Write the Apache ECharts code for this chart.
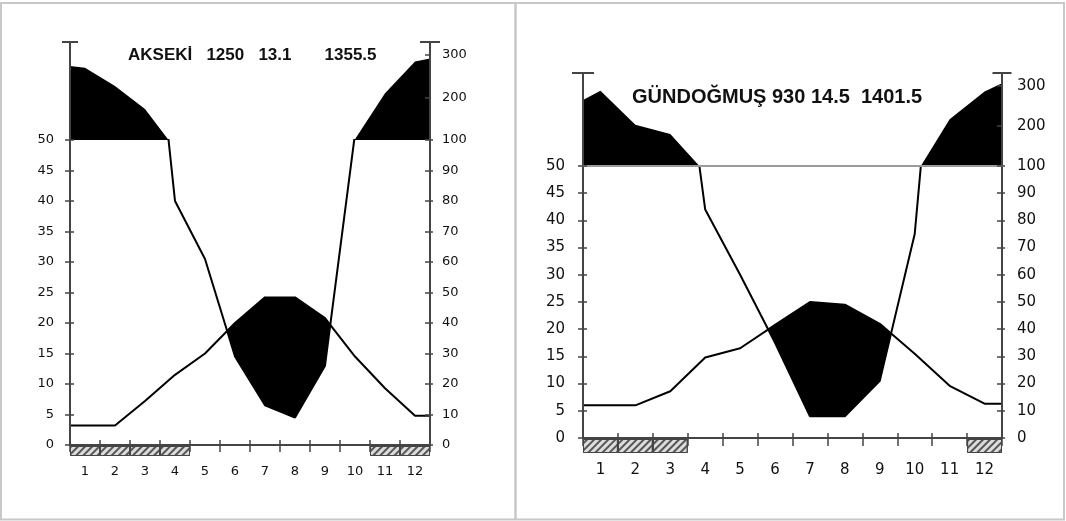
<!DOCTYPE html>
<html>
<head>
<meta charset="utf-8">
<script src="https://cdn.jsdelivr.net/npm/echarts@6/dist/echarts.min.js"></script>
<style>
html,body{margin:0;padding:0;background:#fff;}
#chart{width:1066px;height:521px;}
</style>
</head>
<body>
<div id="chart"></div>
<script>
// ---------------- data ----------------
const months = ['1','2','3','4','5','6','7','8','9','10','11','12'];

const akTitle = 'AKSEKİ   1250   13.1       1355.5';
const akTemp = [3.2, 3.2, 7.2, 11.5, 15.0, 20.0, 24.2, 24.2, 20.8, 14.5, 9.3, 4.8];
const akPrecip = [270, 227, 173, 80, 61, 29, 13, 9, 26, 102, 210, 285];
const akPrecipEdges = [274, 292];
const akFrost = [1, 1, 1, 1, 0, 0, 0, 0, 0, 0, 1, 1];

const gdTitle = 'GÜNDOĞMUŞ 930 14.5  1401.5';
const gdTemp = [6.0, 6.0, 8.6, 14.8, 16.5, 20.8, 25.0, 24.5, 21.0, 15.5, 9.6, 6.3];
const gdPrecip = [288, 203, 180, 84, 60, 35, 8, 8, 21, 75, 217, 286];
const gdPrecipEdges = [265, 307];
const gdFrost = [1, 1, 1, 0, 0, 0, 0, 0, 0, 0, 0, 1];

const tempStep = 5, tempMax = 50;
const precipStep = 10, precipMax = 100;
const precipUpperLabels = [200, 300];

// ---------------- build ----------------
const AX = '#444';
const TXT = '#111';
const FONT = 'DejaVu Sans';

const opt = {
  animation: false,
  backgroundColor: '#fff',
  grid: [], xAxis: [], yAxis: [], series: [], title: [],
  graphic: [
    {type:'rect', shape:{x:1, y:3, width:1063, height:516.5}, style:{fill:'none', stroke:'#c8c8c8', lineWidth:2}},
    {type:'line', shape:{x1:515.5, y1:3, x2:515.5, y2:519.5}, style:{stroke:'#c8c8c8', lineWidth:2.5}}
  ]
};

function seriesWithEdges(vals, edges) {
  const d = [[0.5, edges ? edges[0] : vals[0]]];
  vals.forEach((v, i) => d.push([i + 1, v]));
  d.push([12.5, edges ? edges[1] : vals[11]]);
  return d;
}

function addPanel(p) {
  const g = opt.grid.length, x = opt.xAxis.length, y = opt.yAxis.length;
  const upH = p.lowTop - p.upTop;
  const upMax = 100 + upH / p.upK;
  opt.grid.push({left:p.left, top:p.lowTop, width:p.width, height:p.lowH});
  opt.grid.push({left:p.left, top:p.upTop, width:p.width, height:upH});
  opt.grid.push({left:p.left, top:p.stripTop, width:p.width, height:p.stripH});

  // x axes
  opt.xAxis.push({type:'category', gridIndex:g, data:months, position:'bottom', boundaryGap:true, z:6,
    axisLine:{onZero:false, lineStyle:{color:AX, width:2}},
    axisTick:{show:true, length:p.xTickOut, lineStyle:{color:AX, width:1.5}},
    axisLabel:{margin:p.xLabMargin, fontFamily:FONT, fontSize:p.fs, color:TXT},
    splitLine:{show:false}});
  opt.xAxis.push({type:'category', gridIndex:g, data:months, position:'bottom', boundaryGap:true, z:6,
    axisLine:{show:false}, axisTick:{show:true, inside:true, length:5, lineStyle:{color:AX, width:1.5}},
    axisLabel:{show:false}, splitLine:{show:false}});
  opt.xAxis.push({type:'value', gridIndex:g, min:0.5, max:12.5, show:false, splitLine:{show:false}});
  opt.xAxis.push({type:'value', gridIndex:g+1, min:0.5, max:12.5, position:'bottom', z:6,
    axisLine:{show:p.hundredLine, onZero:false, lineStyle:{color:'#9a9a9a', width:2}},
    axisTick:{show:false}, axisLabel:{show:false}, splitLine:{show:false}});
  opt.xAxis.push({type:'category', gridIndex:g+2, data:months, show:false, boundaryGap:true});

  // y axes (lower)
  opt.yAxis.push({type:'value', gridIndex:g, min:0, max:tempMax, interval:tempStep, position:'left', z:6,
    axisLine:{show:true, onZero:false, lineStyle:{color:AX, width:2}},
    axisTick:{show:true, length:5, lineStyle:{color:AX, width:1.5}},
    axisLabel:{margin:p.yLabMarginL, fontFamily:FONT, fontSize:p.fs, color:TXT},
    splitLine:{show:false}});
  opt.yAxis.push({type:'value', gridIndex:g, min:0, max:tempMax, interval:tempStep, position:'left', z:6,
    axisLine:{show:false}, axisTick:{show:true, inside:true, length:4, lineStyle:{color:AX, width:1.5}},
    axisLabel:{show:false}, splitLine:{show:false}});
  opt.yAxis.push({type:'value', gridIndex:g, min:0, max:precipMax, interval:precipStep, position:'right', z:6,
    axisLine:{show:true, onZero:false, lineStyle:{color:AX, width:2}},
    axisTick:{show:true, length:3, lineStyle:{color:AX, width:1.5}},
    axisLabel:{margin:p.yLabMarginR, fontFamily:FONT, fontSize:p.fs, color:TXT},
    splitLine:{show:false}});
  opt.yAxis.push({type:'value', gridIndex:g, min:0, max:precipMax, interval:precipStep, position:'right', z:6,
    axisLine:{show:false}, axisTick:{show:true, inside:true, length:5, lineStyle:{color:AX, width:1.5}},
    axisLabel:{show:false}, splitLine:{show:false}});
  // y axes (upper)
  opt.yAxis.push({type:'value', gridIndex:g+1, min:100, max:upMax, position:'left', z:6,
    axisLine:{show:true, onZero:false, symbol:['none','rect'], symbolSize:[p.capL, 2], lineStyle:{color:AX, width:2}},
    axisTick:{show:false}, axisLabel:{show:false}, splitLine:{show:false}});
  opt.yAxis.push({type:'value', gridIndex:g+1, min:100, max:upMax, interval:100, position:'right', z:6,
    axisLine:{show:true, onZero:false, symbol:['none','rect'], symbolSize:[p.capR, 2], lineStyle:{color:AX, width:2}},
    axisTick:{show:true, inside:true, length:5, lineStyle:{color:AX, width:1.5}},
    axisLabel:{margin:p.yLabMarginR, fontFamily:FONT, fontSize:p.fs, color:TXT, showMinLabel:false,
      formatter: v => precipUpperLabels.indexOf(Math.round(v)) >= 0 && Math.abs(v - Math.round(v)) < 1e-6 ? String(Math.round(v)) : ''},
    splitLine:{show:false}});
  // strip
  opt.yAxis.push({type:'value', gridIndex:g+2, min:0, max:1, show:false, splitLine:{show:false}});

  const tData = seriesWithEdges(p.temp, null);
  const pData = seriesWithEdges(p.precip, p.edges);
  const base = {type:'line', showSymbol:false, symbol:'none', silent:true, clip:true};

  // arid fill: black under temperature, white under precipitation
  opt.series.push(Object.assign({}, base, {xAxisIndex:x+2, yAxisIndex:y, data:tData, z:1,
    lineStyle:{width:0}, areaStyle:{color:'#000', opacity:1, origin:'start'}}));
  opt.series.push(Object.assign({}, base, {xAxisIndex:x+2, yAxisIndex:y+2, data:pData, z:2,
    lineStyle:{width:0}, areaStyle:{color:'#fff', opacity:1, origin:'start'}}));
  // lines
  opt.series.push(Object.assign({}, base, {name:'Sıcaklık', xAxisIndex:x+2, yAxisIndex:y, data:tData, z:3,
    lineStyle:{color:'#000', width:2}}));
  opt.series.push(Object.assign({}, base, {name:'Yağış', xAxisIndex:x+2, yAxisIndex:y+2, data:pData, z:3,
    lineStyle:{color:'#000', width:2}}));
  // humid (> 100 mm) fill, drawn without stroke so clipping is exact
  opt.series.push(Object.assign({}, base, {xAxisIndex:x+3, yAxisIndex:y+4, data:pData, z:3,
    lineStyle:{width:0}, areaStyle:{color:'#000', opacity:1, origin:'start'}}));
  // frost strip
  opt.series.push({type:'bar', silent:true, xAxisIndex:x+4, yAxisIndex:y+6, barWidth:'100%', z:2,
    data: p.frost.map(f => f ? 1 : null),
    itemStyle:{color:'#dcdcdc', borderColor:'#444', borderWidth:1,
      decal:{symbol:'rect', symbolSize:1, dashArrayX:[1,0], dashArrayY:[1.5,2.5], rotation:-Math.PI/4, color:'#555'}}});

  opt.title.push({text:p.title, left:p.titleLeft, top:p.titleTop, padding:0,
    textStyle:{fontFamily:'Liberation Sans', fontWeight:'bold', fontSize:p.titleFs, color:'#111'}});
}

addPanel({title:akTitle, temp:akTemp, precip:akPrecip, edges:akPrecipEdges, frost:akFrost,
  left:70, width:360, lowTop:140, lowH:305, upTop:42, upK:0.425, stripTop:446, stripH:10,
  fs:13, xTickOut:7, xLabMargin:20, yLabMarginL:16, yLabMarginR:12, capL:16, capR:20,
  hundredLine:false, titleLeft:128, titleTop:47, titleFs:17});

addPanel({title:gdTitle, temp:gdTemp, precip:gdPrecip, edges:gdPrecipEdges, frost:gdFrost,
  left:583, width:419, lowTop:166, lowH:272, upTop:73, upK:0.40, stripTop:439, stripH:14,
  fs:15, xTickOut:8, xLabMargin:25, yLabMarginL:18, yLabMarginR:15, capL:22, capR:19,
  hundredLine:true, titleLeft:632, titleTop:87, titleFs:20});

const chart = echarts.init(document.getElementById('chart'), null, {renderer:'canvas'});
chart.setOption(opt);
</script>
</body>
</html>
